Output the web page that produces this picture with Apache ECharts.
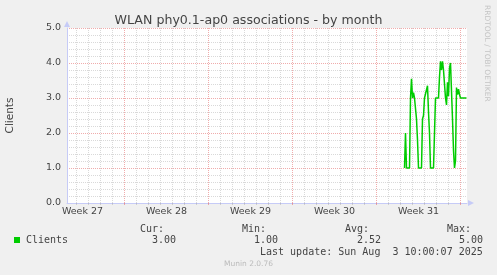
<!DOCTYPE html>
<html><head><meta charset="utf-8">
<script src="https://cdn.jsdelivr.net/npm/echarts@6/dist/echarts.min.js"></script>
<style>html,body{margin:0;padding:0;background:#f0f0f0}#c{width:497px;height:275px}</style>
</head><body><div id="c"></div>
<script>
const chartTitle = 'WLAN phy0.1-ap0 associations - by month';
const seriesName = 'Clients';
const weekLabels = ['Week 27', 'Week 28', 'Week 29', 'Week 30', 'Week 31'];
const spanHours = 800;            // whole x range, hours
const firstWeekStartHour = 115;   // first week boundary inside range
const firstDayStartHour = 19;     // first day boundary inside range
const dataStartHour = 675;
const dataStepHours = 2;
const clientValues = [
  1.0, 2.0, 1.0, 1.0, 1.0, 1.0, 3.0, 3.55, 3.0, 3.15,
  3.0, 3.0, 2.4, 1.8, 1.0, 1.0, 1.0, 1.0, 2.4, 2.5,
  3.0, 3.0, 3.0, 3.35, 2.6, 2.0, 1.0, 1.0, 1.0, 1.0,
  1.0, 3.0, 3.0, 3.0, 3.0, 3.6, 4.05, 3.8, 4.05, 3.8,
  3.4, 3.0, 2.8, 3.45, 3.05, 3.85, 4.0, 4.0, 2.4, 1.5,
  1.0, 1.2, 3.3, 3.1, 3.25, 3.1, 3.0, 3.0, 3.0, 3.0,
  3.0, 3.0, 3.0
];
const yMin = 0, yMax = 5, yStep = 1;
const statHeaders = ['Cur:', 'Min:', 'Avg:', 'Max:'];
const statValues = ['3.00', '1.00', '2.52', '5.00'];
const lastUpdate = 'Last update: Sun Aug  3 10:00:07 2025';
const versionText = 'Munin 2.0.76';
const sideText = 'RRDTOOL / TOBI OETIKER';

const hourCats = Array.from({length: spanHours + 1}, (_, i) => String(i));
const isWeek = i => i >= firstWeekStartHour && (i - firstWeekStartHour) % 168 === 0;
const isDay = i => i >= firstDayStartHour && (i - firstDayStartHour) % 24 === 0 && !isWeek(i);
const midWeek0 = firstWeekStartHour - 84;
const isMidWeek = i => i >= midWeek0 && (i - midWeek0) % 168 === 0 && (i - midWeek0) / 168 < weekLabels.length;

const seriesData = clientValues.map((v, k) => [dataStartHour + k * dataStepHours, v]);

const TXT = '#444';
const GRAY = 'rgba(140,140,140,0.33)';
const RED = 'rgba(225,90,90,0.5)';
const AXIS = '#c6cbf7';
const mono = 'DejaVu Sans Mono';

const chart = echarts.init(document.getElementById('c'), null, {renderer: 'canvas'});
const cols = [140, 242, 345, 447];
const graphics = [];
statHeaders.forEach((h, k) => graphics.push({type: 'text', x: cols[k], y: 229,
  style: {text: h, font: '10px "' + mono + '"', fill: TXT, verticalAlign: 'middle'}}));
statValues.forEach((v, k) => graphics.push({type: 'text', x: cols[k] + 12, y: 240,
  style: {text: v, font: '10px "' + mono + '"', fill: TXT, verticalAlign: 'middle'}}));
graphics.push({type: 'rect', shape: {x: 14, y: 237, width: 6, height: 6}, style: {fill: '#00cc00'}});
graphics.push({type: 'text', x: 26, y: 240, style: {text: seriesName, font: '10px "' + mono + '"', fill: TXT, verticalAlign: 'middle'}});
graphics.push({type: 'text', x: 260, y: 252, style: {text: lastUpdate, font: '10px "' + mono + '"', fill: TXT, verticalAlign: 'middle'}});
graphics.push({type: 'text', x: 248.5, y: 264.5, style: {text: versionText, font: '7.5px "DejaVu Sans"', fill: '#bbbbbb', align: 'center', textAlign: 'center', verticalAlign: 'middle'}});
graphics.push({type: 'text', x: 487, y: 5, rotation: -Math.PI / 2, style: {text: sideText, font: '7.5px "DejaVu Sans"', fill: '#c4c4c4', verticalAlign: 'middle'}});

chart.setOption({
  backgroundColor: '#f0f0f0',
  animation: false,
  title: {
    text: chartTitle, left: 'center', top: 9,
    textStyle: {fontFamily: 'DejaVu Sans', fontSize: 12.6, fontWeight: 'normal', color: TXT}
  },
  grid: {left: 67, right: 30, top: 28, bottom: 72, containLabel: false, outerBoundsMode: 'none',
         show: true, backgroundColor: '#ffffff', borderWidth: 0},
  xAxis: [
    {
      type: 'value', min: 0, max: spanHours, position: 'bottom',
      axisLine: {show: true, lineStyle: {color: AXIS, width: 1}, symbol: ['none', 'triangle'], symbolSize: [6, 6], symbolOffset: [0, 4]},
      axisLabel: {show: false}, axisTick: {show: false}, splitLine: {show: false}
    },
    {
      type: 'category', data: hourCats, boundaryGap: false, position: 'bottom',
      axisLine: {show: false}, axisLabel: {show: false},
      axisTick: {show: true, interval: (i) => isDay(i), length: 2, lineStyle: {color: GRAY}},
      splitLine: {show: true, interval: (i) => isDay(i), lineStyle: {color: GRAY, type: [1, 1], width: 1}}
    },
    {
      type: 'category', data: hourCats, boundaryGap: false, position: 'bottom',
      axisLine: {show: false},
      axisTick: {show: true, interval: (i) => isWeek(i), length: 2, lineStyle: {color: RED}},
      axisLabel: {
        show: true, interval: (i) => isMidWeek(i), margin: 4,
        fontFamily: 'DejaVu Sans', fontSize: 9.5, color: TXT,
        formatter: (v) => weekLabels[(Number(v) - midWeek0) / 168]
      },
      splitLine: {show: true, interval: (i) => isWeek(i), lineStyle: {color: RED, type: [1, 1], width: 1}}
    }
  ],
  yAxis: {
    type: 'value', min: yMin, max: yMax, interval: yStep,
    name: seriesName, nameLocation: 'middle', nameRotate: 90, nameGap: 51,
    nameTextStyle: {fontFamily: 'DejaVu Sans', fontSize: 10.5, color: TXT},
    axisLine: {show: true, lineStyle: {color: AXIS, width: 1}, symbol: ['none', 'triangle'], symbolSize: [6, 6], symbolOffset: [0, 4]},
    axisTick: {show: false},
    axisLabel: {fontFamily: 'DejaVu Sans', fontSize: 9.5, color: TXT, margin: 6, formatter: (v) => v.toFixed(1)},
    splitLine: {show: true, lineStyle: {color: RED, type: [1, 1], width: 1}},
    minorTick: {show: false, splitNumber: 5},
    minorSplitLine: {show: true, lineStyle: {color: GRAY, type: [1, 1], width: 1}}
  },
  series: [{
    name: seriesName, type: 'line', xAxisIndex: 0, data: seriesData,
    showSymbol: false, symbol: 'none', z: 5,
    lineStyle: {color: '#00cc00', width: 1.5}
  }],
  graphic: graphics
});
</script></body></html>
